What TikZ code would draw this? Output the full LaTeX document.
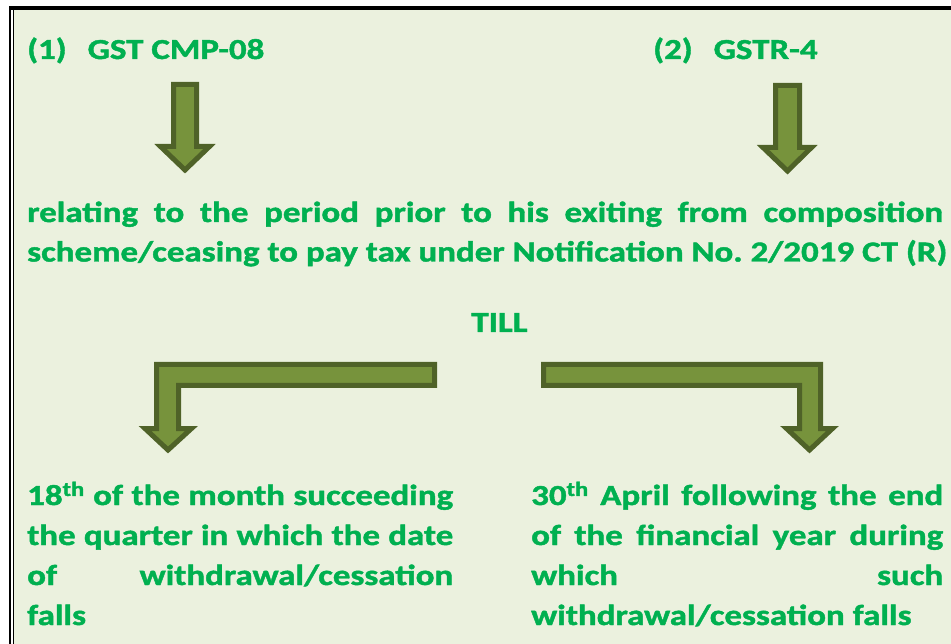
\documentclass[tikz,border=0pt]{standalone}
\usepackage{fontspec}
\setmainfont{Carlito}[BoldFeatures={FakeStretch=1.205,FakeBold=1.5}]
\frenchspacing
\definecolor{pagegreen}{HTML}{EBF1DE}
\definecolor{textgreen}{HTML}{00B050}
\definecolor{arrowfill}{HTML}{77933C}
\definecolor{arrowline}{HTML}{4F6228}
\tikzset{
  label text/.style={inner sep=0pt, text=textgreen, font=\fontsize{29}{39.5}\selectfont\bfseries},
  block arrow/.style={fill=arrowfill, draw=arrowline, line width=5pt, line join=miter},
}
\newcommand{\justpar}[2]{\parbox[t]{#1}{\fontsize{29}{40}\selectfont\bfseries\tolerance=10000 #2}}
\begin{document}
\begin{tikzpicture}[x=1pt,y=-1pt]
  \useasboundingbox (0,0) rectangle (951,644);
  % page background and frame
  \fill[white] (0,0) rectangle (951,644);
  \fill[pagegreen] (14,10) rectangle (951,644);
  \fill[black] (9,6) rectangle (951,10);
  \fill[black] (9,6) rectangle (11,644);
  \fill[black] (12.5,6) rectangle (14,644);

  % headings
  \node[label text, anchor=base west] (cmp) at (27,59) {(1)\hspace{21pt}GST CMP-08};
  \node[label text, anchor=base west] (gstr) at (653,59) {(2)\hspace{21pt}GSTR-4};

  % straight down arrows
  \draw[block arrow] (173.5,84.5) -- (196.5,84.5) -- (196.5,146.5) -- (209.5,146.5)
       -- (185,170) -- (160.5,146.5) -- (173.5,146.5) -- cycle;
  \draw[block arrow] (775.5,85.5) -- (799.5,85.5) -- (799.5,147.5) -- (811.5,147.5)
       -- (787.5,171) -- (763,147.5) -- (775.5,147.5) -- cycle;

  % central statement
  \node[label text, anchor=base west] (period) at (27,222) {\parbox[t]{916pt}{\fontsize{29}{39.5}\selectfont\bfseries\tolerance=10000
    relating to the period prior to his exiting from composition\linebreak
    \mbox{scheme/ceasing to pay tax under Notification No. 2/2019 CT (R)}}};

  \node[label text, anchor=base] (till) at (499.5,332) {TILL};

  % bent arrows
  \draw[block arrow] (434.5,364.5) -- (434.5,385.5) -- (178.5,385.5) -- (178.5,428.5)
       -- (191.5,428.5) -- (168,450) -- (145,428.5) -- (156.5,428.5) -- (156.5,364.5) -- cycle;
  \draw[block arrow] (543.5,364.5) -- (820.5,364.5) -- (820.5,428.5) -- (832.5,428.5)
       -- (809.5,450) -- (786.5,428.5) -- (799.5,428.5) -- (799.5,385.5) -- (543.5,385.5) -- cycle;

  % deadlines
  \node[label text, anchor=base west] (left) at (27,505) {\justpar{426pt}{%
    18\textsuperscript{th} of the month succeeding\linebreak
    the quarter in which the date\linebreak
    of withdrawal/cessation\linebreak
    falls}};
  \node[label text, anchor=base west] (right) at (531,505) {\justpar{412pt}{%
    30\textsuperscript{th} April following the end\linebreak
    of the financial year during\linebreak
    which such\linebreak
    withdrawal/cessation falls}};
\end{tikzpicture}
\end{document}
